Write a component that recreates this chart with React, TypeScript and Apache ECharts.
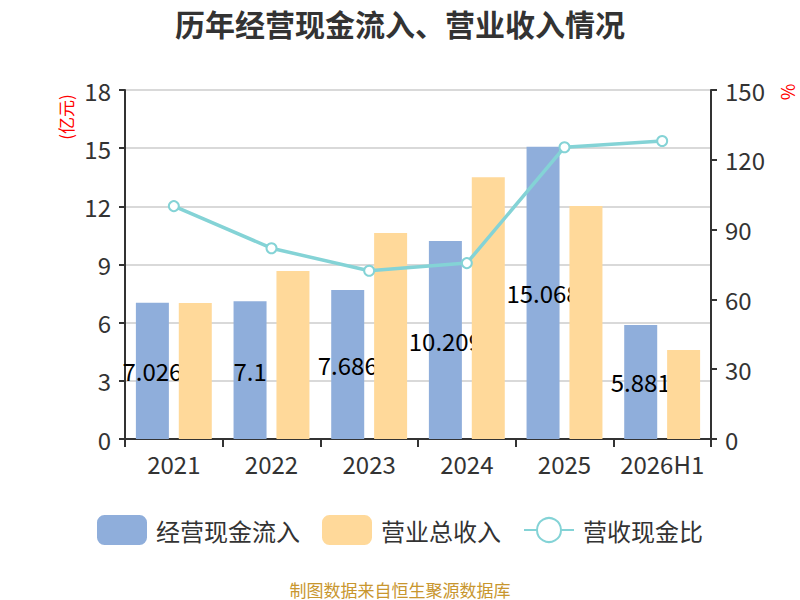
import React, { useRef, useEffect } from 'react';
import * as echarts from 'echarts';

const FONT = '"Noto Sans CJK SC", "Noto Sans", sans-serif';

// ─── Data ─────────────────────────────────────────────────────────────────────
const YEARS = ['2021', '2022', '2023', '2024', '2025', '2026H1'];
const CASH_IN = [7.026, 7.1, 7.686, 10.209, 15.068, 5.881];     // 经营现金流入 (亿元)
const REVENUE = [7.02, 8.66, 10.63, 13.5, 12.02, 4.59];          // 营业总收入 (亿元)
const RATIO = [100.1, 82.0, 72.3, 75.6, 125.4, 128.1];           // 营收现金比 (%)

// ─── Styles ───────────────────────────────────────────────────────────────────
const BLUE = '#8FAEDB';
const YELLOW = '#FFD99A';
const TEAL = '#84D3D6';
const AXIS = '#333333';
const TEXT = '#333333';

function getOption(): echarts.EChartsCoreOption {
  return {
    animation: false,
    backgroundColor: '#FFFFFF',
    textStyle: { fontFamily: FONT },
    title: {
      text: '历年经营现金流入、营业收入情况',
      left: 'center',
      top: 3,
      textStyle: { fontSize: 30, fontWeight: 'bold', color: TEXT, fontFamily: FONT },
    },
    legend: {
      bottom: 50,
      left: 'center',
      itemWidth: 50,
      itemHeight: 30,
      itemGap: 22,
      textStyle: { fontSize: 24, color: TEXT, fontFamily: FONT, padding: [0, 0, 0, 4] },
      data: [
        { name: '经营现金流入', icon: 'roundRect' },
        { name: '营业总收入', icon: 'roundRect' },
        { name: '营收现金比' },
      ],
    },
    grid: { left: 125, right: 89, top: 90, bottom: 161 },
    xAxis: {
      type: 'category',
      data: YEARS,
      axisLine: { lineStyle: { color: AXIS, width: 2 } },
      axisTick: { show: true, length: 8, lineStyle: { color: AXIS, width: 2 } },
      axisLabel: { interval: 0, fontSize: 24, color: TEXT, margin: 12, fontFamily: FONT },
    },
    yAxis: [
      {
        type: 'value',
        min: 0,
        max: 18,
        interval: 3,
        axisLine: { show: true, lineStyle: { color: AXIS, width: 2 } },
        axisTick: { show: true, length: 6, lineStyle: { color: AXIS, width: 2 } },
        axisLabel: { fontSize: 24, color: TEXT, margin: 14, fontFamily: FONT },
        splitLine: { lineStyle: { color: '#CCCCCC', width: 1.5 } },
      },
      {
        type: 'value',
        min: 0,
        max: 150,
        interval: 30,
        axisLine: { show: true, lineStyle: { color: AXIS, width: 2 } },
        axisTick: { show: true, length: 6, lineStyle: { color: AXIS, width: 2 } },
        axisLabel: { fontSize: 24, color: TEXT, margin: 14, fontFamily: FONT },
        splitLine: { show: false },
      },
    ],
    graphic: [
      {
        type: 'text',
        x: 65,
        y: 117,
        rotation: Math.PI / 2,
        style: {
          text: '(亿元)', fill: '#FF0000', fontSize: 17, fontFamily: FONT,
          align: 'center', verticalAlign: 'middle',
        },
      },
      {
        type: 'text',
        x: 787,
        y: 92,
        rotation: Math.PI / 2,
        style: {
          text: '%', fill: '#FF0000', fontSize: 18, fontFamily: FONT,
          align: 'center', verticalAlign: 'middle',
        },
      },
      {
        type: 'text',
        x: 400,
        y: 589,
        style: {
          text: '制图数据来自恒生聚源数据库', fill: '#C8962E', fontSize: 17, fontFamily: FONT,
          align: 'center', verticalAlign: 'middle',
        },
      },
    ],
    series: [
      {
        name: '经营现金流入',
        type: 'bar',
        z: 2,
        data: CASH_IN,
        barWidth: 33,
        barGap: '30%',
        itemStyle: { color: BLUE },
        label: {
          show: true,
          position: 'inside',
          color: '#000000',
          fontSize: 24,
          fontFamily: FONT,
        },
      },
      {
        name: '营业总收入',
        type: 'bar',
        z: 3,
        data: REVENUE,
        barWidth: 33,
        barGap: '30%',
        itemStyle: { color: YELLOW },
      },
      {
        name: '营收现金比',
        type: 'line',
        z: 4,
        yAxisIndex: 1,
        data: RATIO,
        symbol: 'emptyCircle',
        symbolSize: 10,
        lineStyle: { color: TEAL, width: 3.5 },
        itemStyle: { color: TEAL, borderWidth: 2.5 },
      },
    ],
  };
}

function Chart() {
  const ref = useRef<HTMLDivElement>(null);

  useEffect(() => {
    if (!ref.current) return;
    const chart = echarts.init(ref.current, undefined, { renderer: 'svg' });
    chart.setOption(getOption());
    return () => chart.dispose();
  }, []);

  return <div ref={ref} style={{ width: 800, height: 600 }} />;
}

export default function App() {
  return (
    <div style={{ position: 'fixed', left: 0, top: 0, width: 800, height: 600, overflow: 'hidden' }}>
      <Chart />
    </div>
  );
}
